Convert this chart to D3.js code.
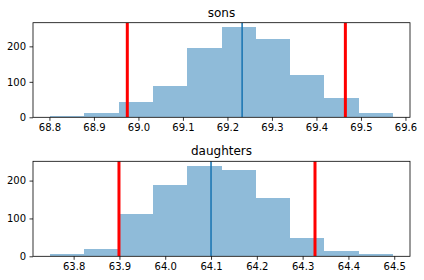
<!DOCTYPE html>
<html>
<head>
<meta charset="utf-8">
<script src="https://cdn.jsdelivr.net/npm/d3@7"></script>
<style>
  html, body { margin: 0; padding: 0; background: #fff; }
  svg { display: block; }
  text { font-family: "DejaVu Sans", sans-serif; fill: #000; }
</style>
</head>
<body>
<svg id="chart" width="424" height="280"></svg>
<script>
// ---- data ----
const sonsCounts = [3, 11, 43, 88, 195, 254, 222, 118, 54, 12];
const sonsRange = [68.8016, 69.5717];
const sonsCI = [68.975, 69.465];
const sonsMean = 69.233;
const sonsTicks = [68.8, 68.9, 69.0, 69.1, 69.2, 69.3, 69.4, 69.5, 69.6];

const daughtersCounts = [5, 18, 112, 188, 239, 227, 153, 48, 13, 5];
const daughtersRange = [63.7487, 64.497];
const daughtersCI = [63.899, 64.327];
const daughtersMean = 64.1;
const daughtersTicks = [63.8, 63.9, 64.0, 64.1, 64.2, 64.3, 64.4, 64.5];

const yTicks = [0, 100, 200];

const panels = [
  { title: "sons", counts: sonsCounts, range: sonsRange, ci: sonsCI, mean: sonsMean, ticks: sonsTicks, top: 22.7, bottom: 117.3 },
  { title: "daughters", counts: daughtersCounts, range: daughtersRange, ci: daughtersCI, mean: daughtersMean, ticks: daughtersTicks, top: 161.3, bottom: 256.3 }
];

const svg = d3.select("#chart");
const left = 33, right = 410;

panels.forEach(p => {
  const [lo, hi] = p.range;
  const n = p.counts.length;
  const w = (hi - lo) / n;
  const bins = p.counts.map((c, i) => ({ x0: lo + i * w, x1: lo + (i + 1) * w, c }));
  const pad = 0.05 * (hi - lo);
  const x = d3.scaleLinear().domain([lo - pad, hi + pad]).range([left, right]);
  const y = d3.scaleLinear().domain([0, d3.max(p.counts) * 1.05]).range([p.bottom, p.top]);

  const g = svg.append("g");
  const clipId = "clip-" + p.title;
  g.append("clipPath").attr("id", clipId).append("rect")
    .attr("x", left).attr("y", p.top).attr("width", right - left).attr("height", p.bottom - p.top);
  const plot = g.append("g").attr("clip-path", `url(#${clipId})`);

  plot.selectAll("rect.bar").data(bins).enter().append("rect")
    .attr("class", "bar")
    .attr("x", d => Math.round(x(d.x0)))
    .attr("width", d => Math.round(x(d.x1)) - Math.round(x(d.x0)))
    .attr("y", d => y(d.c))
    .attr("height", d => y(0) - y(d.c))
    .attr("fill", "#1f77b4")
    .attr("fill-opacity", 0.5)
    .attr("shape-rendering", "crispEdges");

  plot.selectAll("line.ci").data(p.ci).enter().append("line")
    .attr("x1", d => x(d)).attr("x2", d => x(d))
    .attr("y1", p.top).attr("y2", p.bottom)
    .attr("stroke", "#ff0000").attr("stroke-width", 3);

  plot.append("line")
    .attr("x1", x(p.mean)).attr("x2", x(p.mean))
    .attr("y1", p.top).attr("y2", p.bottom)
    .attr("stroke", "#1f77b4").attr("stroke-width", 1.6);

  // axes
  const xAxis = d3.axisBottom(x).tickValues(p.ticks).tickFormat(d3.format(".1f"))
    .tickSize(3.5).tickPadding(3.5);
  const gx = g.append("g").attr("transform", `translate(0,${p.bottom})`).call(xAxis);
  const yAxis = d3.axisLeft(y).tickValues(yTicks).tickSize(3.5).tickPadding(3.5);
  const gy = g.append("g").attr("transform", `translate(${left},0)`).call(yAxis);
  [gx, gy].forEach(a => {
    a.select(".domain").remove();
    a.selectAll(".tick line").attr("stroke", "#000").attr("stroke-width", 0.8);
    a.selectAll(".tick text").attr("font-size", 10).attr("font-family", "DejaVu Sans, sans-serif").attr("fill", "#222");
  });

  // frame
  g.append("rect")
    .attr("x", left).attr("y", p.top).attr("width", right - left).attr("height", p.bottom - p.top)
    .attr("fill", "none").attr("stroke", "#000").attr("stroke-width", 0.8);

  g.append("text")
    .attr("x", (left + right) / 2).attr("y", p.top - 6)
    .attr("text-anchor", "middle").attr("font-size", 12)
    .text(p.title);
});
</script>
</body>
</html>
